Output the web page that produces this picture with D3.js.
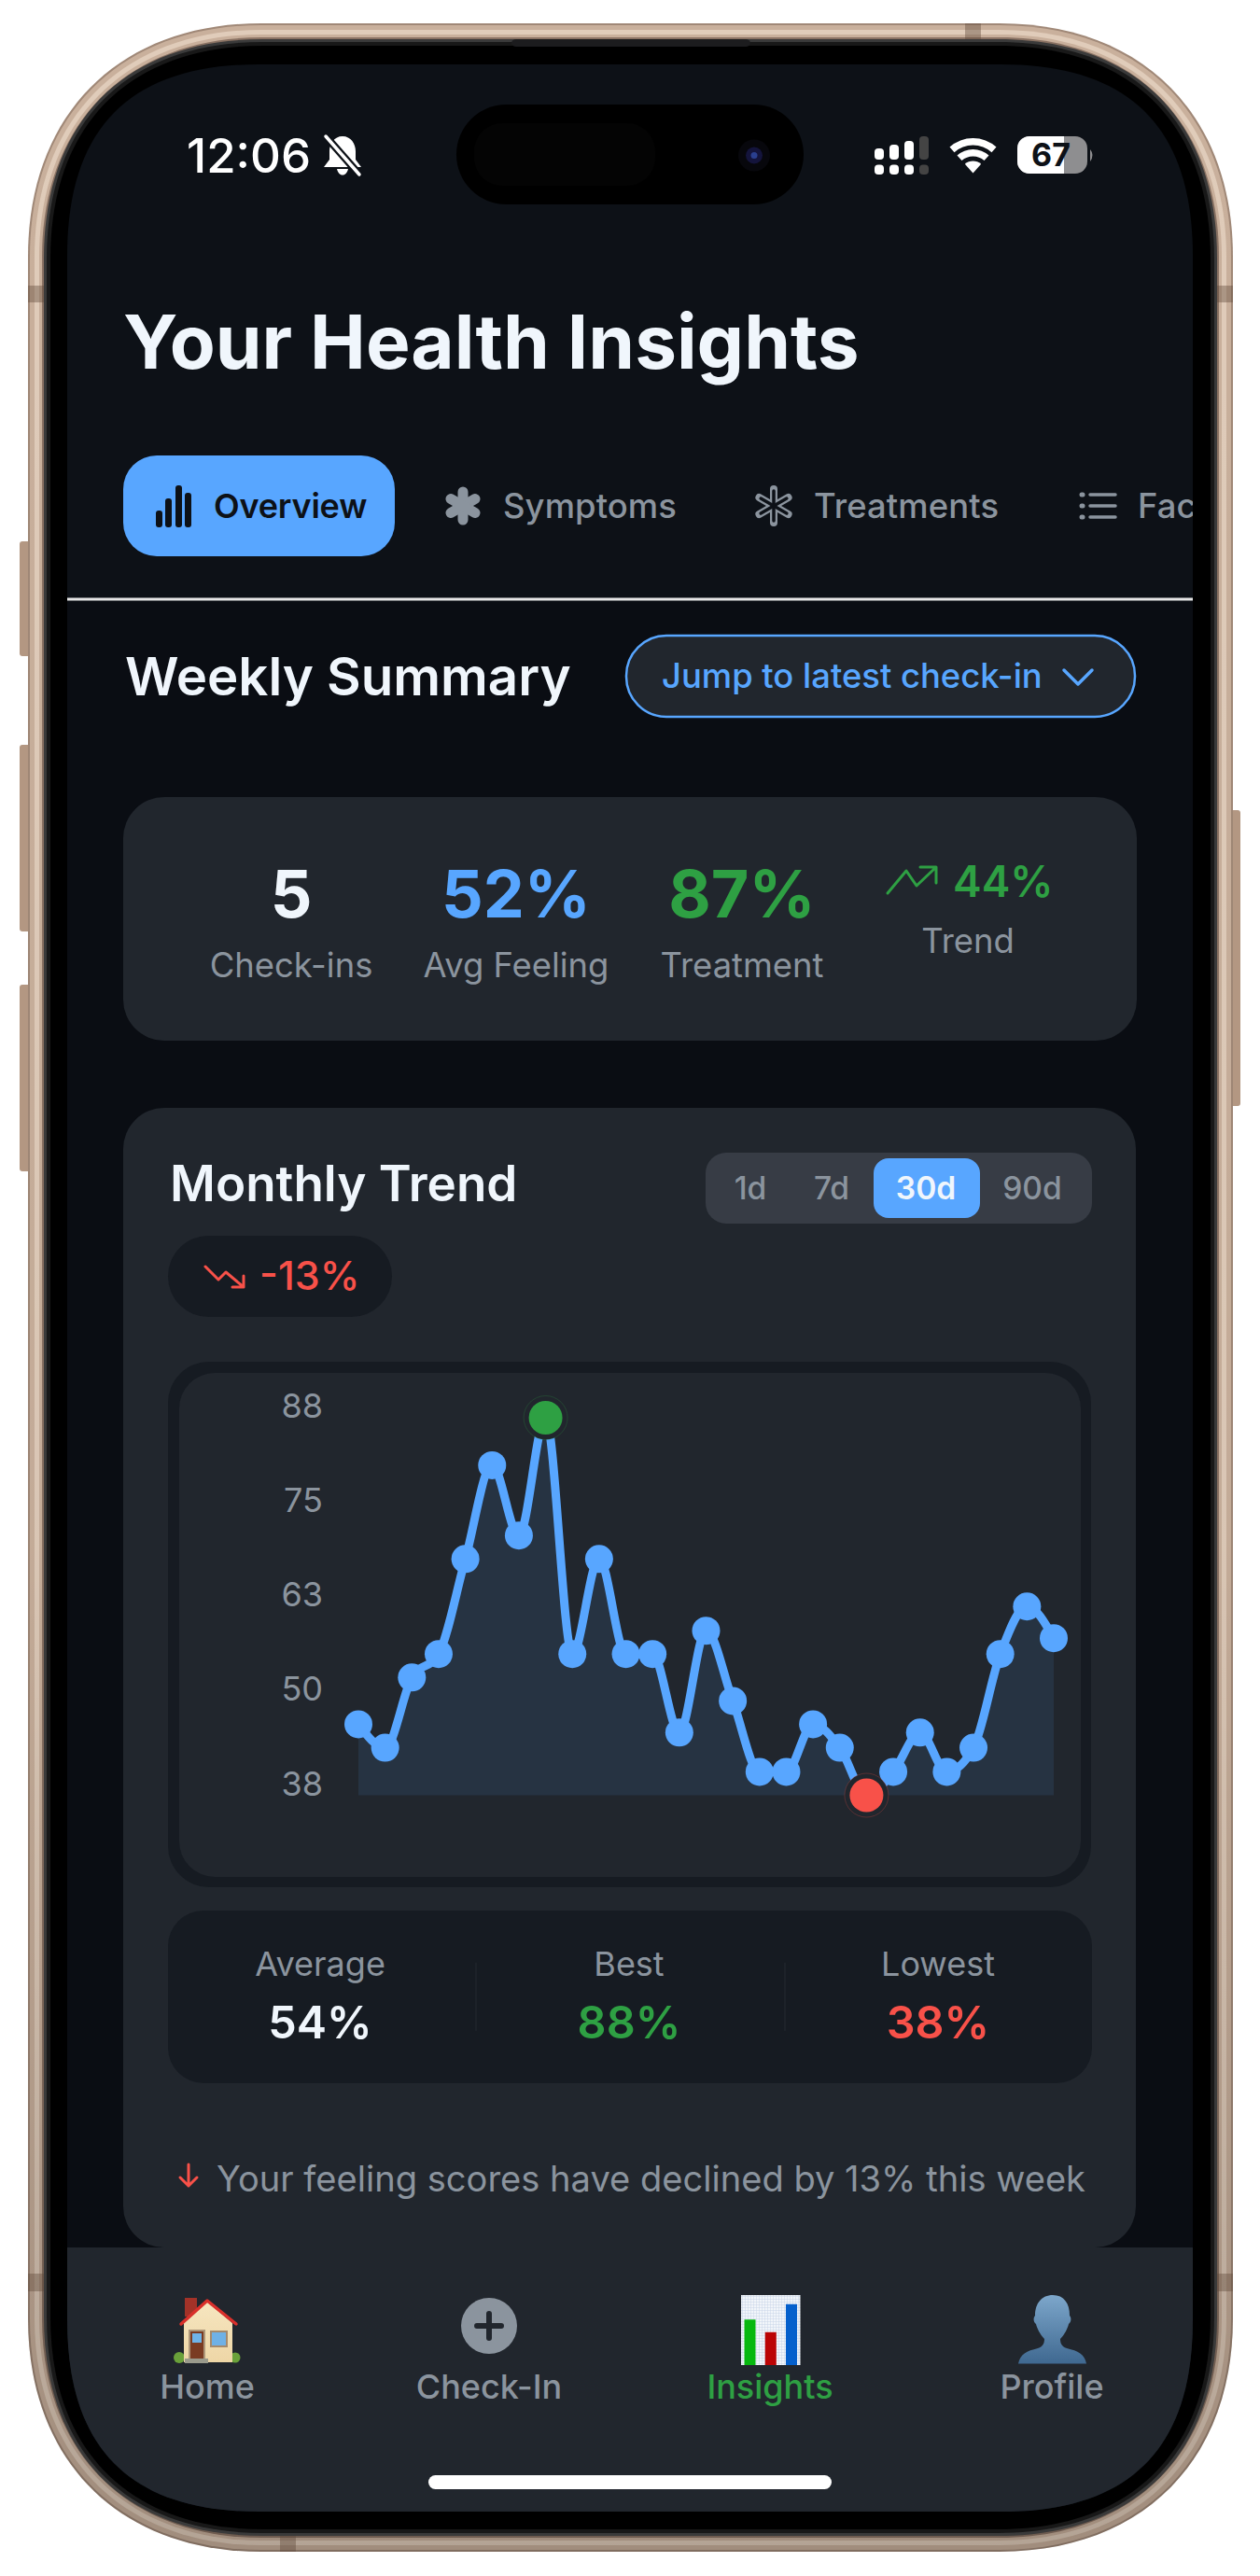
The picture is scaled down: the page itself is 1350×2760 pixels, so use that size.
<!DOCTYPE html>
<html>
<head>
<meta charset="utf-8">
<script src="https://cdnjs.cloudflare.com/ajax/libs/d3/7.8.5/d3.min.js"></script>
<style>
html, body { margin: 0; padding: 0; background: #fff; }
svg { display: block; }
text { font-family: Inter, "Noto Sans", sans-serif; }
</style>
</head>
<body>
<svg id="svg" width="1350" height="2760" viewBox="0 0 1350 2760"></svg>
<script>
// feeling score per day
const feeling = [47.4, 44.3, 53.6, 56.7, 69.3, 81.7, 72.4, 88, 56.7, 69.3, 56.7, 56.7, 46.3, 59.8, 50.5, 41.1, 41.1, 47.4, 44.3, 38, 41.1, 46.3, 41.1, 44.3, 56.7, 63, 58.8];
const yTicks = [38, 50.5, 63, 75.5, 88];

const tabs = ["Overview", "Symptoms", "Treatments", "Factors"];
const ranges = ["1d", "7d", "30d", "90d"];
const summaryValues = ["5", "52%", "87%"];
const summaryLabels = ["Check-ins", "Avg Feeling", "Treatment"];
const statLabels = ["Average", "Best", "Lowest"];
const statValues = ["54%", "88%", "38%"];
const navLabels = ["Home", "Check-In", "Insights", "Profile"];
const iconBars = [65, 47, 87];

const BLUE = "#58a6ff", GREEN = "#2ea043", RED = "#f85149", GREY = "#8b949e";
const CARD = "#21262d", DARK = "#161b22", WHITE = "#f0f6fc", BG = "#0d1117";

var svg = d3.select("#svg");
var defs = svg.append("defs");

function gradient(id, stops) {
    var g = defs.append("linearGradient").attr("id", id)
        .attr("x1", 0).attr("y1", 0).attr("x2", 0).attr("y2", 1);
    stops.forEach(s => g.append("stop").attr("offset", s[0]).attr("stop-color", s[1]).attr("stop-opacity", s[2] === undefined ? 1 : s[2]));
}
gradient("shade", [["0%", "#000", 0], ["60%", "#000", 0.03], ["100%", "#000", 0.2]]);
gradient("bust", [["0%", "#7da7cb"], ["100%", "#3f6890"]]);
gradient("wall", [["0%", "#f6e6c0"], ["100%", "#eed6a6"]]);

var grid = defs.append("pattern").attr("id", "gridIcon").attr("patternUnits", "userSpaceOnUse").attr("width", 3).attr("height", 3);
grid.append("rect").attr("width", 3).attr("height", 3).attr("fill", "#f2f5fa");
grid.append("path").attr("d", "M0 0H3M0 0V3").attr("stroke", "#c9d6e8").attr("stroke-width", 1);

// rounded box with long, soft corners like the device outline
function squircle(x0, y0, x1, y1, L, a) {
    var h = L * a;
    return "M" + (x0 + L) + " " + y0 + "H" + (x1 - L)
        + "C" + (x1 - h) + " " + y0 + " " + x1 + " " + (y0 + h) + " " + x1 + " " + (y0 + L)
        + "V" + (y1 - L)
        + "C" + x1 + " " + (y1 - h) + " " + (x1 - h) + " " + y1 + " " + (x1 - L) + " " + y1
        + "H" + (x0 + L)
        + "C" + (x0 + h) + " " + y1 + " " + x0 + " " + (y1 - h) + " " + x0 + " " + (y1 - L)
        + "V" + (y0 + L)
        + "C" + x0 + " " + (y0 + h) + " " + (x0 + h) + " " + y0 + " " + (x0 + L) + " " + y0 + "Z";
}

defs.append("clipPath").attr("id", "screen").append("path")
    .attr("d", squircle(72, 69, 1278, 2691, 205, 0.33));

function rect(g, x0, y0, x1, y1, r, fill) {
    return g.append("rect")
        .attr("x", x0).attr("y", y0)
        .attr("width", x1 - x0).attr("height", y1 - y0)
        .attr("rx", r).attr("fill", fill);
}

function label(g, str, x, y, size, fill, weight, anchor) {
    return g.append("text")
        .attr("x", x).attr("y", y)
        .attr("font-size", size)
        .attr("font-weight", weight || 400)
        .attr("text-anchor", anchor || "start")
        .attr("fill", fill)
        .text(str);
}

function stroke(g, d, color, w) {
    return g.append("path").attr("d", d)
        .attr("fill", "none").attr("stroke", color)
        .attr("stroke-width", w)
        .attr("stroke-linecap", "round").attr("stroke-linejoin", "round");
}

// phone body
[[21, 580, 703], [21, 798, 998], [21, 1055, 1255]].forEach(b => rect(svg, b[0], b[1], b[0] + 12, b[2], 3, "#b39782"));
rect(svg, 1318, 868, 1329, 1185, 3, "#b39782");
[[0, "#a08877"], [2, "#c9b09c"], [7, "#e0ccba"], [12, "#c9b09c"], [15, "#8a7263"]].forEach(s => {
    svg.append("path").attr("fill", s[1])
        .attr("d", squircle(30 + s[0], 25 + s[0], 1321 - s[0], 2734 - s[0], 250 - s[0], 0.39));
});
svg.append("path").attr("fill", "url(#shade)").attr("d", squircle(30, 25, 1321, 2734, 250, 0.39));
[[30, 306, 47, 324], [1304, 306, 1321, 324], [30, 2436, 47, 2455], [1304, 2436, 1321, 2455], [1034, 25, 1051, 42], [300, 2717, 317, 2734]]
    .forEach(b => rect(svg, b[0], b[1], b[2], b[3], 0, "#5d4638").attr("fill-opacity", 0.4));
[[0, "#3a3a3a"], [3, "#181818"], [7, "#000"]].forEach(s => {
    svg.append("path").attr("fill", s[1])
        .attr("d", squircle(47 + s[0], 42 + s[0], 1304 - s[0], 2717 - s[0], 235 - s[0], 0.37));
});
rect(svg, 548, 42, 804, 50, 5, "#1c1c1e");

var screen = svg.append("g").attr("clip-path", "url(#screen)");
rect(screen, 72, 69, 1278, 2691, 0, BG);
rect(screen, 72, 644, 1278, 2408, 0, "#0a0d13");

// status bar
label(screen, "12:06", 200, 185, 51, "#fff", 500);
var bell = screen.append("g");
bell.append("path").attr("fill", "#fff")
    .attr("d", "M367 146c-9 0-14 8-14 16v9l-6 8h40l-6-8v-9c0-8-5-16-14-16zM361 181c1 4 3 6.500 6 6.500s5-2.500 6-6.500z");
stroke(bell, "M349 146L385 187", BG, 8);
stroke(bell, "M349 146L385 187", "#fff", 3.5);

rect(screen, 489, 112, 861, 219, 53.5, "#000");
rect(screen, 508, 132, 702, 199, 30, "#040404");
screen.append("circle").attr("cx", 808).attr("cy", 166.5).attr("r", 17).attr("fill", "#07070c");
screen.append("circle").attr("cx", 808).attr("cy", 166.5).attr("r", 9).attr("fill", "#14143c");
screen.append("circle").attr("cx", 808).attr("cy", 166.5).attr("r", 3.5).attr("fill", "#2a3f8f");

// signal, wifi, battery
[[937, 159], [953, 155], [969, 151], [985, 146]].forEach((c, i) => {
    var col = i === 3 ? "#444" : "#fff";
    rect(screen, c[0], c[1], c[0] + 10, 171, 4, col);
    rect(screen, c[0], 176.5, c[0] + 10, 187, 4, col);
});
var wifi = d3.arc().startAngle(-0.73).endAngle(0.73);
[[0, 13], [18, 25.5], [30, 37.5]].forEach(r => {
    screen.append("path")
        .attr("transform", "translate(1042.5, 185.5)")
        .attr("fill", "#fff")
        .attr("d", wifi({ innerRadius: r[0], outerRadius: r[1] }));
});
rect(screen, 1090, 146, 1165, 186, 13, "#8e8e90");
screen.append("path").attr("fill", "#fff")
    .attr("d", "M1103 146H1140V186H1103A13 13 0 0 1 1090 173V159A13 13 0 0 1 1103 146Z");
screen.append("path").attr("d", "M1168 160Q1173 166 1168 173Z").attr("fill", "#8e8e90");
label(screen, "67", 1126, 178, 34, BG, 700, "middle");

// title and tabs
label(screen, "Your Health Insights", 132, 395, 80, WHITE, 700);

rect(screen, 132, 488, 423, 596, 36, BLUE);
[[167, 547, 565], [177, 534, 565], [188, 520, 565], [198, 528, 565]]
    .forEach(b => rect(screen, b[0], b[1], b[0] + 7, b[2], 3, BG));
var tabX = [229, 539, 872, 1219];
tabs.forEach((t, i) => {
    label(screen, t, tabX[i], 555, i === 0 ? 36 : 36.4, i === 0 ? BG : GREY, i === 0 ? 600 : 500)
        .attr("letter-spacing", i === 0 ? -0.2 : 0.1);
});
// symptom asterisk
d3.range(3).forEach(i => stroke(screen, "M496 527V557", GREY, 11)
    .attr("transform", "rotate(" + (i * 60) + " 496 542)"));
// treatment outline asterisk
d3.range(3).forEach(i => stroke(screen, "M829 524V560", GREY, 8)
    .attr("transform", "rotate(" + (i * 60) + " 829 542)"));
d3.range(3).forEach(i => stroke(screen, "M829 526V558", BG, 3.5)
    .attr("transform", "rotate(" + (i * 60) + " 829 542)"));
// list icon
[530, 542, 554].forEach(y => {
    stroke(screen, "M1159 " + y + "H1160", GREY, 5);
    stroke(screen, "M1168 " + y + "H1195", GREY, 3.5);
});

rect(screen, 72, 640.5, 1278, 643.5, 0, "#e6e6e6");

// weekly summary heading and jump button
label(screen, "Weekly Summary", 134, 745, 56.4, WHITE, 600);
rect(screen, 671, 681, 1216, 768, 43, CARD).attr("stroke", BLUE).attr("stroke-width", 2.5);
label(screen, "Jump to latest check-in", 709, 737, 36.4, BLUE, 500);
stroke(screen, "M1140 718L1155 733L1170 718", BLUE, 3.5);

// summary card
rect(screen, 132, 854, 1218, 1115, 44, CARD);
var summaryX = [312, 553, 795];
var summaryCols = [WHITE, BLUE, GREEN];
summaryValues.forEach((v, i) => {
    label(screen, v, summaryX[i], 983, 70, summaryCols[i], 700, "middle");
    label(screen, summaryLabels[i], summaryX[i], 1047, 36.4, GREY, 400, "middle");
});
stroke(screen, "M951 957L971 933L982 949L1002 930M986 929H1003V946", GREEN, 3);
label(screen, "44%", 1021, 961, 46, GREEN, 600);
label(screen, "Trend", 1037, 1021, 36.4, GREY, 400, "middle");

// monthly trend card
rect(screen, 132, 1187, 1217, 2408, 44, CARD);
label(screen, "Monthly Trend", 182, 1287, 53, WHITE, 600);

rect(screen, 756, 1235, 1170, 1311, 22, "#373c45");
rect(screen, 936, 1241, 1050, 1305, 16, BLUE);
var rangeX = [804, 891, 992, 1106];
ranges.forEach((r, i) => {
    label(screen, r, rangeX[i], 1285, 33.6, i === 2 ? WHITE : GREY, i === 2 ? 600 : 500, "middle");
});

rect(screen, 180, 1324, 420, 1411, 43.5, DARK);
stroke(screen, "M220 1357L234 1371L242 1363L261 1379M261 1367V1379H249", RED, 3);
label(screen, "-13%", 278, 1382, 43, RED, 500);

rect(screen, 180, 1459, 1169, 2022, 44, DARK);
rect(screen, 192, 1471, 1158, 2011, 38, CARD);

// chart
var x = d3.scaleLinear().domain([0, feeling.length - 1]).range([384, 1129]);
var y = d3.scaleLinear().domain([38, 88]).range([1923.5, 1519]);

var chart = screen.append("g");

var yAxis = d3.axisLeft(y)
    .tickValues(yTicks)
    .tickSize(0)
    .tickFormat(d => Math.floor(d));

chart.append("g")
    .attr("transform", "translate(346, -12)")
    .call(yAxis)
    .call(g => g.select(".domain").remove())
    .call(g => g.selectAll("text")
        .attr("x", 0)
        .attr("font-size", 36)
        .attr("font-family", "Inter")
        .attr("fill", GREY));

chart.append("path")
    .datum(feeling)
    .attr("fill", BLUE)
    .attr("fill-opacity", 0.1)
    .attr("d", d3.area()
        .x((d, i) => x(i))
        .y0(y(38))
        .y1(d => y(d))
        .curve(d3.curveMonotoneX));

chart.append("path")
    .datum(feeling)
    .attr("fill", "none")
    .attr("stroke", BLUE)
    .attr("stroke-width", 9)
    .attr("d", d3.line()
        .x((d, i) => x(i))
        .y(d => y(d))
        .curve(d3.curveMonotoneX));

var maxV = d3.max(feeling), minV = d3.min(feeling);

chart.selectAll("circle.pt")
    .data(feeling.map((v, i) => ({ v: v, i: i })).filter(d => d.v !== maxV && d.v !== minV))
    .enter()
    .append("circle")
    .attr("class", "pt")
    .attr("cx", d => x(d.i))
    .attr("cy", d => y(d.v))
    .attr("r", 15)
    .attr("fill", BLUE);

[[maxV, GREEN], [minV, RED]].forEach(m => {
    var cx = x(feeling.indexOf(m[0])), cy = y(m[0]);
    chart.append("circle").attr("cx", cx).attr("cy", cy).attr("r", 23.5)
        .attr("fill", CARD).attr("stroke", m[1]).attr("stroke-opacity", 0.25).attr("stroke-width", 1);
    chart.append("circle").attr("cx", cx).attr("cy", cy).attr("r", 18).attr("fill", m[1]);
});

// stats strip
rect(screen, 180, 2047, 1170, 2232, 38, DARK);
var statX = [343, 674, 1005];
var statCols = [WHITE, GREEN, RED];
statLabels.forEach((s, i) => {
    label(screen, s, statX[i], 2117, 36, GREY, 400, "middle");
    label(screen, statValues[i], statX[i], 2184, 48.5, statCols[i], 600, "middle");
});
[510, 841].forEach(v => rect(screen, v - 0.75, 2103, v + 0.75, 2176, 0, CARD));

// footnote
stroke(screen, "M202 2319V2342M193 2333L202 2342L211 2333", RED, 3);
label(screen, "Your feeling scores have declined by 13% this week", 232, 2347.5, 38.1, GREY, 400);

// bottom nav
rect(screen, 72, 2408, 1278, 2691, 0, CARD);
var navX = [222, 524, 825, 1127];
navLabels.forEach((n, i) => {
    label(screen, n, navX[i], 2570, 36, i === 2 ? GREEN : GREY, 500, "middle");
});

// home icon
var house = screen.append("g");
rect(house, 198, 2462, 211, 2482, 0, "#a33228");
[[192, 2526, 6], [252, 2526, 5.5]].forEach(b => house.append("circle").attr("cx", b[0]).attr("cy", b[1]).attr("r", b[2]).attr("fill", "#6aa13a"));
house.append("path").attr("d", "M197 2531V2489L222 2466L249 2489V2531Z").attr("fill", "url(#wall)");
stroke(house, "M194 2490L222 2465L253 2490", "#d9302b", 3.5);
rect(house, 202, 2496, 220, 2528, 0, "#ad9679");
rect(house, 204, 2498, 218, 2527, 0, "#7a3b22");
rect(house, 206, 2500, 216, 2510, 0, "#6fb3e8");
rect(house, 225, 2497, 244, 2515, 0, "#a58a6c");
rect(house, 227, 2499, 242, 2513, 0, "#6fb1e6");
rect(house, 198, 2527, 223, 2532, 0, "#9a9a8c");

// check-in icon
screen.append("circle").attr("cx", 524).attr("cy", 2492).attr("r", 30).attr("fill", GREY);
stroke(screen, "M511 2492H537M524 2479V2505", CARD, 6);

// insights icon
rect(screen, 794, 2459, 857.5, 2534, 0, "url(#gridIcon)");
var iconX = d3.scaleBand().domain(d3.range(iconBars.length)).range([797.5, 854]).paddingInner(0.46);
var iconY = d3.scaleLinear().domain([0, 100]).range([2534, 2459]);
var iconCols = ["#07b80f", "#bb0405", "#0560cc"];
screen.selectAll("rect.iconbar")
    .data(iconBars)
    .enter()
    .append("rect")
    .attr("class", "iconbar")
    .attr("x", (d, i) => iconX(i))
    .attr("y", d => iconY(d))
    .attr("width", iconX.bandwidth())
    .attr("height", d => iconY(0) - iconY(d))
    .attr("fill", (d, i) => iconCols[i]);

// profile icon
screen.append("path").attr("fill", "url(#bust)")
    .attr("d", "M1091 2532.5C1093 2522 1100 2519 1112 2516C1118 2514 1119 2510 1119 2506C1114 2501 1111 2494 1110 2490C1107 2488 1107 2483 1109 2481C1109 2468 1116 2459 1128 2459C1140 2459 1146 2468 1146 2481C1148 2483 1148 2488 1145 2490C1144 2494 1141 2501 1136 2506C1136 2510 1137 2514 1143 2516C1155 2519 1162 2522 1164 2532.5Z");

// home indicator
rect(screen, 459, 2652, 891, 2667, 7.5, "#fff");
</script>
</body>
</html>
